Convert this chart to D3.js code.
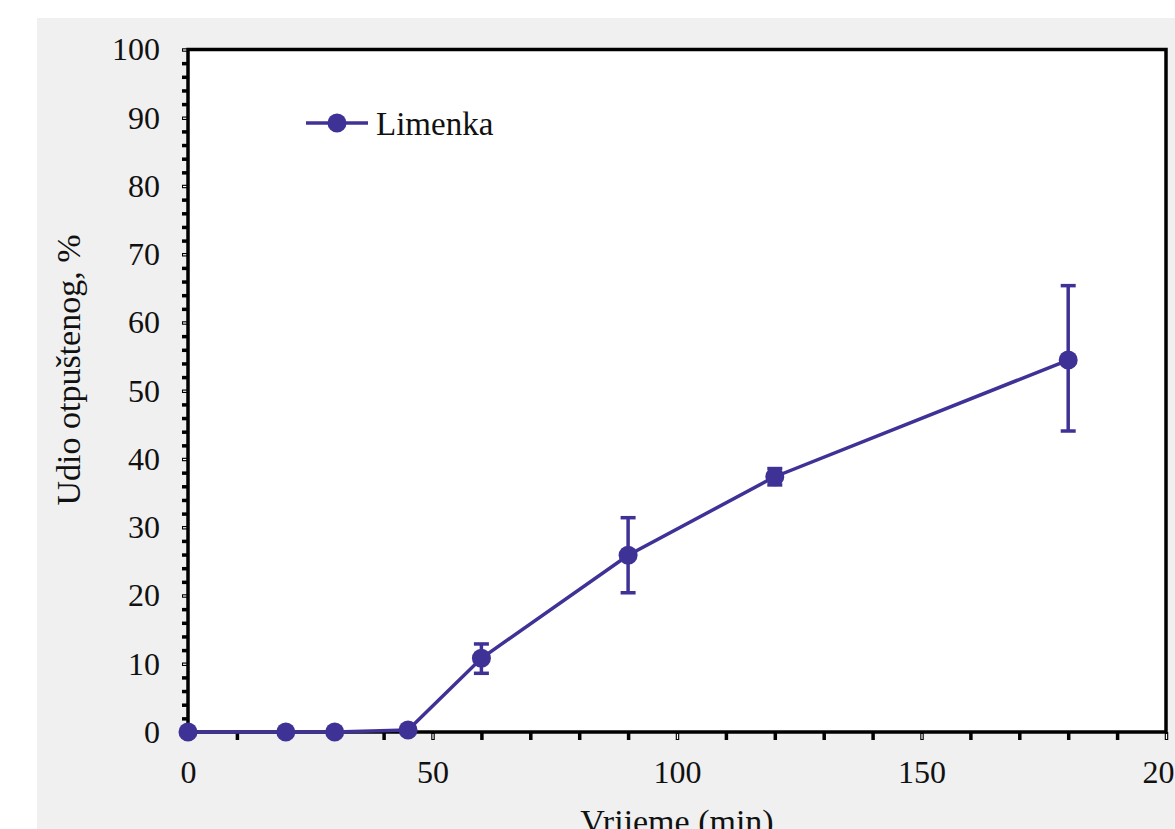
<!DOCTYPE html>
<html>
  <head>
    <meta charset="utf-8">
    <script src="https://cdn.jsdelivr.net/npm/d3@7"></script>
    <style>
      body { margin: 0; background: #ffffff; }
      svg text { font-family: "Liberation Serif", "Times New Roman", serif; fill: #111; }
    </style>
  </head>
<body>
  <script type="text/javascript">

    // data
    var times = [0, 20, 30, 45, 60, 90, 120, 180];
    var released = [0, 0, 0, 0.3, 10.8, 25.9, 37.4, 54.5];
    var errLow = [0, 0, 0, 0, 8.6, 20.4, 36.2, 44.1];
    var errHigh = [0, 0, 0, 0, 12.9, 31.4, 38.6, 65.4];
    var xTicks = [0, 50, 100, 150, 200];
    var yTicks = [0, 10, 20, 30, 40, 50, 60, 70, 80, 90, 100];
    var seriesName = "Limenka";

    var color = "#3f3296";

    var svg = d3.select("body")
      .append("svg")
        .attr("width", 1175)
        .attr("height", 829);

    // gray panel behind the chart
    svg.append("rect")
      .attr("x", 37)
      .attr("y", 18)
      .attr("width", 1175 - 37)
      .attr("height", 829 - 18)
      .attr("fill", "#eff0ef");

    var pLeft = 188, pRight = 1166, pTop = 49.5, pBottom = 732;

    var x = d3.scaleLinear().domain([0, 200]).range([pLeft, pRight]);
    var y = d3.scaleLinear().domain([0, 100]).range([pBottom, pTop]);

    svg.append("rect")
      .attr("x", pLeft)
      .attr("y", pTop)
      .attr("width", pRight - pLeft)
      .attr("height", pBottom - pTop)
      .attr("fill", "white");

    // y axis: minor ticks every 2, labels every 10
    var yAxis = svg.append("g")
      .attr("transform", "translate(" + pLeft + ",0)")
      .call(d3.axisLeft(y)
        .tickValues(d3.range(0, 101, 2))
        .tickSize(6)
        .tickPadding(22)
        .tickFormat(function(d) { return yTicks.indexOf(d) >= 0 ? d : ""; }));

    // x axis: minor ticks every 10, labels every 50
    var xAxis = svg.append("g")
      .attr("transform", "translate(0," + pBottom + ")")
      .call(d3.axisBottom(x)
        .tickValues(d3.range(0, 201, 10))
        .tickSize(8)
        .tickPadding(20)
        .tickFormat(function(d) { return xTicks.indexOf(d) >= 0 ? d : ""; }));

    [yAxis, xAxis].forEach(function(a) {
      a.select(".domain").remove();
      a.selectAll(".tick line")
        .attr("stroke", "#000")
        .attr("stroke-width", 3.5);
      a.selectAll(".tick text")
        .style("font-size", "32px")
        .attr("fill", "#111");
    });

    // major ticks look hollow in the original
    yAxis.selectAll(".tick")
      .filter(function(d) { return yTicks.indexOf(d) >= 0; })
      .append("line")
        .attr("x1", -1).attr("x2", -5)
        .attr("stroke", "white")
        .attr("stroke-width", 1.2);
    xAxis.selectAll(".tick")
      .filter(function(d) { return xTicks.indexOf(d) >= 0; })
      .append("line")
        .attr("y1", 2).attr("y2", 7)
        .attr("stroke", "white")
        .attr("stroke-width", 1.2);

    // frame
    svg.append("rect")
      .attr("x", pLeft)
      .attr("y", pTop)
      .attr("width", pRight - pLeft)
      .attr("height", pBottom - pTop)
      .attr("fill", "none")
      .attr("stroke", "#000")
      .attr("stroke-width", 3.5);

    // axis titles
    svg.append("text")
      .attr("transform", "translate(80," + 370 + ") rotate(-90)")
      .attr("text-anchor", "middle")
      .style("font-size", "34px")
      .text("Udio otpuštenog, %");

    svg.append("text")
      .attr("x", (pLeft + pRight) / 2)
      .attr("y", 833)
      .attr("text-anchor", "middle")
      .style("font-size", "34px")
      .text("Vrijeme (min)");

    // series
    var pts = times.map(function(t, i) {
      return { t: t, v: released[i], lo: errLow[i], hi: errHigh[i] };
    });

    var line = d3.line()
      .x(function(d) { return x(d.t); })
      .y(function(d) { return y(d.v); });

    svg.append("path")
      .datum(pts)
      .attr("d", line)
      .attr("fill", "none")
      .attr("stroke", color)
      .attr("stroke-width", 3.5);

    var bars = svg.selectAll(".err")
      .data(pts.filter(function(d) { return d.hi > d.lo; }))
      .enter()
      .append("g")
        .attr("class", "err")
        .attr("stroke", color)
        .attr("stroke-width", 3.5);

    bars.append("line")
      .attr("x1", function(d) { return x(d.t); })
      .attr("x2", function(d) { return x(d.t); })
      .attr("y1", function(d) { return y(d.lo); })
      .attr("y2", function(d) { return y(d.hi); });
    bars.append("line")
      .attr("x1", function(d) { return x(d.t) - 7.5; })
      .attr("x2", function(d) { return x(d.t) + 7.5; })
      .attr("y1", function(d) { return y(d.lo); })
      .attr("y2", function(d) { return y(d.lo); });
    bars.append("line")
      .attr("x1", function(d) { return x(d.t) - 7.5; })
      .attr("x2", function(d) { return x(d.t) + 7.5; })
      .attr("y1", function(d) { return y(d.hi); })
      .attr("y2", function(d) { return y(d.hi); });

    svg.selectAll(".pt")
      .data(pts)
      .enter()
      .append("circle")
        .attr("class", "pt")
        .attr("cx", function(d) { return x(d.t); })
        .attr("cy", function(d) { return y(d.v); })
        .attr("r", 9.5)
        .attr("fill", color);

    // legend
    var leg = svg.append("g").attr("transform", "translate(306,123)");
    leg.append("line")
      .attr("x1", 0).attr("x2", 62)
      .attr("stroke", color)
      .attr("stroke-width", 3.5);
    leg.append("circle")
      .attr("cx", 31).attr("r", 9.5)
      .attr("fill", color);
    leg.append("text")
      .attr("x", 70)
      .attr("y", 12)
      .style("font-size", "33px")
      .text(seriesName);

  </script>
</body>
</html>
